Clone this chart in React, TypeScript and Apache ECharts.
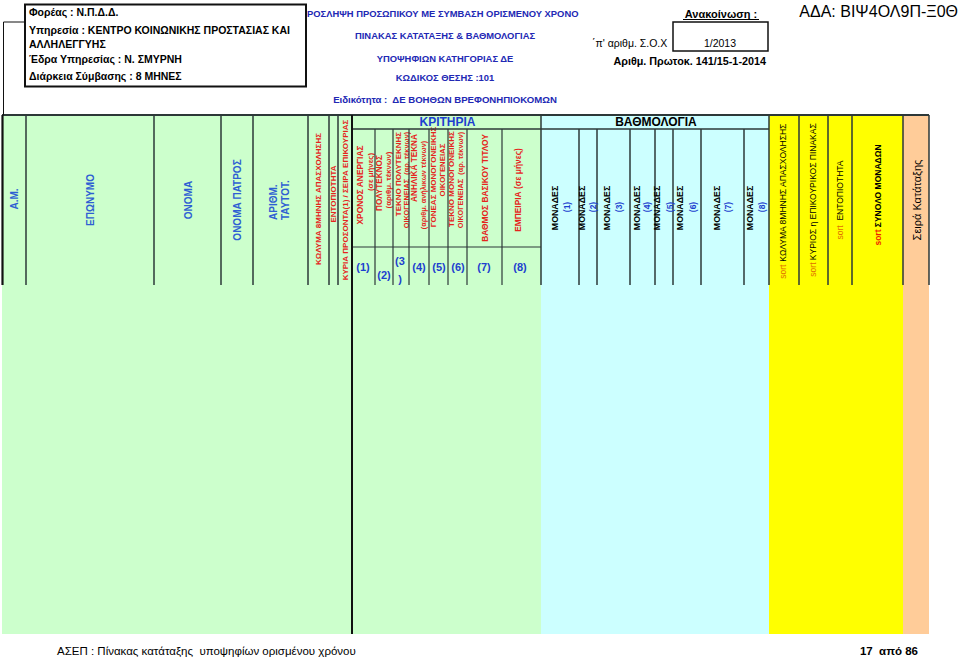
import React, { useEffect, useRef } from "react";
import * as echarts from "echarts";

const FONT = "Arial, 'Liberation Sans', Helvetica, sans-serif";

// ---------- texts (content) ----------
const agencyLines = [
  "Φορέας : Ν.Π.Δ.Δ.",
  "Υπηρεσία : ΚΕΝΤΡΟ ΚΟΙΝΩΝΙΚΗΣ ΠΡΟΣΤΑΣΙΑΣ ΚΑΙ",
  "ΑΛΛΗΛΕΓΓΥΗΣ",
  "Έδρα Υπηρεσίας : Ν. ΣΜΥΡΝΗ",
  "Διάρκεια Σύμβασης : 8 ΜΗΝΕΣ",
];
const titleLines = [
  "ΠΙΝΑΚΑΣ ΚΑΤΑΤΑΞΗΣ & ΒΑΘΜΟΛΟΓΙΑΣ",
  "ΥΠΟΨΗΦΙΩΝ ΚΑΤΗΓΟΡΙΑΣ ΔΕ",
  "ΚΩΔΙΚΟΣ ΘΕΣΗΣ :101",
];
const titleClipped = "ΡΟΣΛΗΨΗ ΠΡΟΣΩΠΙΚΟΥ ΜΕ ΣΥΜΒΑΣΗ ΟΡΙΣΜΕΝΟΥ ΧΡΟΝΟ";
const specialtyText = "Ειδικότητα :  ΔΕ ΒΟΗΘΩΝ ΒΡΕΦΟΝΗΠΙΟΚΟΜΩΝ";
const announcementTitle = "Ανακοίνωση :";
const announcementRef = "΄π' αριθμ. Σ.Ο.Χ";
const announcementNo = "1/2013";
const protocolText = "Αριθμ. Πρωτοκ. 141/15-1-2014";
const adaText = "ΑΔΑ: ΒΙΨ4ΟΛ9Π-Ξ0Θ";

const personalColumns = ["Α.Μ.", "ΕΠΩΝΥΜΟ", "ΟΝΟΜΑ", "ΟΝΟΜΑ ΠΑΤΡΟΣ"];
const idColumnLines = ["ΑΡΙΘΜ.", "ΤΑΥΤΟΤ."];
const eligibilityColumns = [
  "ΚΩΛΥΜΑ 8ΜΗΝΗΣ ΑΠΑΣΧΟΛΗΣΗΣ",
  "ΕΝΤΟΠΙΟΤΗΤΑ",
  "ΚΥΡΙΑ ΠΡΟΣΟΝΤΑ(1) / ΣΕΙΡΑ ΕΠΙΚΟΥΡΙΑΣ",
];
const criteriaGroupTitle = "ΚΡΙΤΗΡΙΑ";
const criteriaLabels = [
  ["ΧΡΟΝΟΣ ΑΝΕΡΓΙΑΣ", "(σε μήνες)"],
  ["ΠΟΛΥΤΕΚΝΟΣ", "(αριθμ. τέκνων)"],
  ["ΤΕΚΝΟ ΠΟΛΥΤΕΚΝΗΣ", "ΟΙΚΟΓΕΝΕΙΑΣ  (αρ. τέκνων)"],
  ["ΑΝΗΛΙΚΑ ΤΕΚΝΑ", "(αριθμ. ανήλικων τέκνων)"],
  ["ΓΟΝΕΑΣ ΜΟΝΟΓΟΝΕΙΚΗΣ", "ΟΙΚΟΓΕΝΕΙΑΣ"],
  ["ΤΕΚΝΟ ΜΟΝΟΓΟΝΕΙΚΗΣ", "ΟΙΚΟΓΕΝΕΙΑΣ  (αρ. τέκνων)"],
  ["ΒΑΘΜΟΣ ΒΑΣΙΚΟΥ ΤΙΤΛΟΥ"],
  ["ΕΜΠΕΙΡΙΑ (σε μήνες)"],
];
const criteriaNumbers = [["(1)"], ["(2)"], ["(3", ")"], ["(4)"], ["(5)"], ["(6)"], ["(7)"], ["(8)"]];
const scoreGroupTitle = "ΒΑΘΜΟΛΟΓΙΑ";
const scoreLabel = "ΜΟΝΑΔΕΣ";
const scoreNumbers = ["(1)", "(2)", "(3)", "(4)", "(5)", "(6)", "(7)", "(8)"];
const sortPrefix = "sort";
const sortColumns = [
  "ΚΩΛΥΜΑ 8ΜΗΝΗΣ ΑΠΑΣΧΟΛΗΣΗΣ",
  "ΚΥΡΙΟΣ η ΕΠΙΚΟΥΡΙΚΟΣ ΠΙΝΑΚΑΣ",
  " ΕΝΤΟΠΙΟΤΗΤΑ",
  "ΣΥΝΟΛΟ ΜΟΝΑΔΩΝ",
];
const rankColumn = "Σειρά Κατάταξης";
const footerLeft = "ΑΣΕΠ : Πίνακας κατάταξης  υποψηφίων ορισμένου χρόνου";
const footerRight = "17  από 86";

// ---------- layout (positions) ----------
const TOP = 115;
const SUB = 129;
const MID = 247;
const HEAD_BOTTOM = 285;
const FILL_BOTTOM = 634;
const personalEdges = [2, 26, 154, 221, 253, 308];
const eligibilityEdges = [308, 329, 338, 352];
const criteriaEdges = [352, 375, 393, 409, 429, 448, 467, 502, 541];
const scoreEdges = [541, 579, 597, 630, 655, 673, 701, 744, 769];
const sortEdges = [769, 799, 828, 852, 903];
const rankEdges = [903, 929];

const personalPos = [[14, 199], [90, 200], [188, 200], [237, 200]];
const idLinePos = [[273, 220], [285, 220]];
const eligibilityPos = [[318, 199], [333, 194], [345, 200]];
const criteriaLinePos = [
  [[360, 185], [370, 172]],
  [[379, 183], [388, 180]],
  [[398, 174], [406, 180]],
  [[414, 168], [423, 185]],
  [[433, 177], [442, 170]],
  [[451, 179], [460, 180]],
  [[485, 188]],
  [[518, 190]],
];
const criteriaLineSize = [
  [8.4, 7.8],
  [8.2, 7.8],
  [8, 7.3],
  [8.2, 7.3],
  [8, 7.8],
  [8, 7.3],
  [8.4],
  [8.4],
];
const criteriaNumberPos = [
  [[363, 267]],
  [[384, 275]],
  [[400, 261], [400, 279]],
  [[419, 267]],
  [[439, 267]],
  [[458, 267]],
  [[484, 267]],
  [[520, 267]],
];
const scoreLabelX = [555, 582, 607, 637, 657, 680, 717, 750];
const scoreNumberX = [567, 593, 619, 647, 670, 693, 728, 762];
const sortPos = [[783, 201], [813, 200], [840, 200], [878, 195]];
const rankPos = [917, 200];

const GREEN = "#CCFFCC";
const CYAN = "#CCFFFF";
const YELLOW = "#FFFF00";
const ORANGE = "#FFCC99";
const GRID = "#2d3838";
const RED = "#e5241d";
const HEAD_BLUE = "#2f5fd3";
const TITLE_BLUE = "#2228b4";

type TOpts = {
  color?: string;
  size?: number;
  bold?: boolean;
  rot?: boolean;
  align?: string;
  va?: string;
  family?: string;
};

function txt(x: number, y: number, text: string, o: TOpts = {}) {
  return {
    type: "text",
    x,
    y,
    rotation: o.rot ? Math.PI / 2 : 0,
    silent: true,
    style: {
      text,
      fill: o.color || "#000",
      fontSize: o.size || 10,
      fontWeight: o.bold ? "bold" : "normal",
      fontFamily: o.family || FONT,
      align: o.align || "center",
      verticalAlign: o.va || "middle",
    },
  };
}
function rect(x: number, y: number, w: number, h: number, fill: string, stroke?: string, lw?: number) {
  return {
    type: "rect",
    silent: true,
    shape: { x, y, width: w, height: h },
    style: { fill, stroke: stroke || null, lineWidth: lw || 0 },
  };
}
function line(x1: number, y1: number, x2: number, y2: number, lw = 1.5, color = GRID) {
  return {
    type: "line",
    silent: true,
    shape: { x1, y1, x2, y2 },
    style: { stroke: color, lineWidth: lw },
  };
}

function buildElements() {
  const els: any[] = [];
  const fillH = FILL_BOTTOM - TOP;

  // background fills
  els.push(rect(personalEdges[0], TOP, criteriaEdges[criteriaEdges.length - 1] - personalEdges[0], fillH, GREEN));
  els.push(rect(scoreEdges[0], TOP, scoreEdges[scoreEdges.length - 1] - scoreEdges[0], fillH, CYAN));
  els.push(rect(sortEdges[0], TOP, sortEdges[sortEdges.length - 1] - sortEdges[0], fillH, YELLOW));
  els.push(rect(rankEdges[0], TOP, rankEdges[1] - rankEdges[0], fillH, ORANGE));

  // header texts of criteria drawn early so grid lines sit on top of overflow
  criteriaLabels.forEach((lines, i) =>
    lines.forEach((t, j) =>
      els.push(
        txt(criteriaLinePos[i][j][0], criteriaLinePos[i][j][1], t, {
          color: RED,
          size: criteriaLineSize[i][j],
          bold: true,
          rot: true,
        })
      )
    )
  );

  // top border
  els.push(line(personalEdges[0], TOP, rankEdges[1], TOP, 2));
  // sub header lines
  els.push(line(criteriaEdges[0], SUB, scoreEdges[scoreEdges.length - 1], SUB, 1.5));
  els.push(line(criteriaEdges[0], MID, criteriaEdges[criteriaEdges.length - 1], MID, 1.2));

  // left outer border
  els.push(line(personalEdges[0] + 0.5, TOP, personalEdges[0] + 0.5, HEAD_BOTTOM, 2.2, "#111"));

  // vertical column lines in header
  personalEdges.slice(1).forEach((x) => els.push(line(x, TOP, x, HEAD_BOTTOM, 1.5)));
  eligibilityEdges.slice(1, -1).forEach((x) => els.push(line(x, TOP, x, HEAD_BOTTOM, 1.5)));
  criteriaEdges.slice(1, -1).forEach((x) => els.push(line(x, SUB, x, HEAD_BOTTOM, 1.2)));
  els.push(line(criteriaEdges[criteriaEdges.length - 1], TOP, criteriaEdges[criteriaEdges.length - 1], HEAD_BOTTOM, 1.5));
  scoreEdges.slice(1, -1).forEach((x) => els.push(line(x, SUB, x, HEAD_BOTTOM, 1.5)));
  els.push(line(scoreEdges[scoreEdges.length - 1], TOP, scoreEdges[scoreEdges.length - 1], HEAD_BOTTOM, 1.5));
  sortEdges.slice(1).forEach((x) => els.push(line(x, TOP, x, HEAD_BOTTOM, 1.5)));
  els.push(line(rankEdges[1], TOP, rankEdges[1], HEAD_BOTTOM, 1.5));
  // thick criteria separator running to bottom
  els.push(line(criteriaEdges[0], TOP, criteriaEdges[0], FILL_BOTTOM, 2, "#111"));

  // connector line from agency box
  els.push(line(3.5, 22, 25, 22, 1, "#111"));
  els.push(line(3.5, 22, 3.5, TOP, 1, "#111"));

  // clipped first title line, then box drawn over it
  els.push(txt(307, 13, titleClipped, { color: TITLE_BLUE, size: 9.4, bold: true, align: "left" }));
  els.push(rect(579, 4, 12, 18, "#fff"));
  els.push(rect(25, 4.5, 281, 82, "#fff", "#111", 2));
  agencyLines.forEach((t, i) => {
    const ys = [12, 30, 44, 59, 76];
    els.push(txt(29, ys[i], t, { size: 10.5, bold: true, align: "left" }));
  });

  titleLines.forEach((t, i) => {
    const ys = [35, 58, 77];
    els.push(txt(445, ys[i], t, { color: TITLE_BLUE, size: 9.4, bold: true }));
  });
  els.push(txt(445, 99, specialtyText, { color: TITLE_BLUE, size: 9.6, bold: true }));

  // announcement block
  els.push(txt(721, 14, announcementTitle, { size: 11, bold: true }));
  els.push(line(683, 19.5, 759, 19.5, 1, "#000"));
  els.push(txt(592, 43, announcementRef, { size: 10.5, align: "left" }));
  els.push(rect(673, 22, 95, 29, "#fff", "#111", 1.5));
  els.push(txt(720, 43, announcementNo, { size: 10.5 }));
  els.push(txt(766, 61, protocolText, { size: 10.8, bold: true, align: "right" }));
  els.push(txt(958, 11, adaText, { size: 16, align: "right" }));

  // header texts
  personalColumns.forEach((t, i) =>
    els.push(txt(personalPos[i][0], personalPos[i][1], t, { color: HEAD_BLUE, size: 10, bold: true, rot: true }))
  );
  idColumnLines.forEach((t, i) =>
    els.push(txt(idLinePos[i][0], idLinePos[i][1], t, { color: HEAD_BLUE, size: 10, bold: true, rot: true, align: "left" }))
  );
  eligibilityColumns.forEach((t, i) =>
    els.push(txt(eligibilityPos[i][0], eligibilityPos[i][1], t, { color: RED, size: 8, bold: true, rot: true }))
  );

  els.push(txt((criteriaEdges[0] + criteriaEdges[criteriaEdges.length - 1]) / 2 + 1, 122, criteriaGroupTitle, { color: "#1d3fcf", size: 12, bold: true }));
  criteriaNumbers.forEach((lines, i) =>
    lines.forEach((t, j) =>
      els.push(txt(criteriaNumberPos[i][j][0], criteriaNumberPos[i][j][1], t, { color: "#1d3fcf", size: 11, bold: true }))
    )
  );

  els.push(txt((scoreEdges[0] + scoreEdges[scoreEdges.length - 1]) / 2 + 1, 122, scoreGroupTitle, { size: 12, bold: true }));
  scoreNumbers.forEach((n, i) => {
    els.push(txt(scoreLabelX[i], 208, scoreLabel, { size: 8.8, bold: true, rot: true }));
    els.push(txt(scoreNumberX[i], 207, n, { color: "#1d3fcf", size: 8.5, bold: true, rot: true }));
  });

  sortColumns.forEach((t, i) => {
    const bold = i === sortColumns.length - 1;
    els.push({
      type: "text",
      x: sortPos[i][0],
      y: sortPos[i][1],
      rotation: Math.PI / 2,
      silent: true,
      style: {
        text: `{s|${sortPrefix}} {t|${t}}`,
        fontFamily: FONT,
        fontSize: 8.5,
        align: "center",
        verticalAlign: "middle",
        rich: {
          s: { fill: bold ? "#f01a00" : "#e07000", fontSize: 8.5, fontFamily: FONT, fontWeight: bold ? "bold" : "normal" },
          t: { fill: "#000", fontSize: 8.5, fontFamily: FONT, fontWeight: bold ? "bold" : "normal" },
        },
      },
    });
  });
  els.push(txt(rankPos[0], rankPos[1], rankColumn, { size: 11, rot: true }));

  // footer
  els.push(txt(57, 651, footerLeft, { size: 11.5, align: "left" }));
  els.push(txt(918, 651, footerRight, { size: 11.5, bold: true, align: "right" }));

  return els;
}

export default function App() {
  const ref = useRef<HTMLDivElement>(null);
  useEffect(() => {
    if (!ref.current) return;
    const chart = echarts.init(ref.current, null, { renderer: "svg" });
    chart.setOption({
      animation: false,
      backgroundColor: "#fff",
      graphic: { elements: buildElements() },
    });
    return () => chart.dispose();
  }, []);
  return (
    <div
      ref={ref}
      style={{ position: "absolute", left: 0, top: 0, width: 960, height: 662, background: "#fff" }}
    />
  );
}
